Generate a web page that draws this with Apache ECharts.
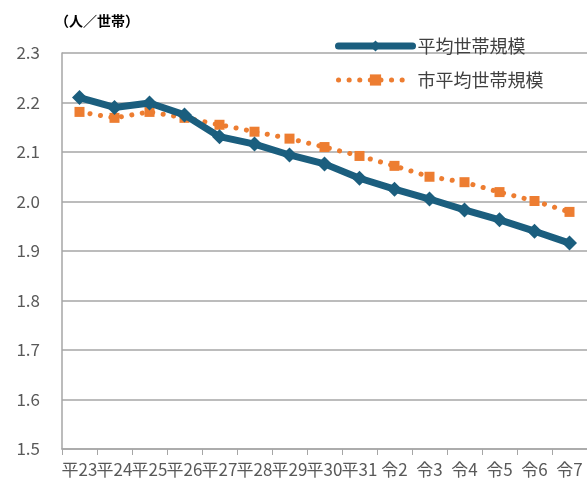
<!DOCTYPE html>
<html>
<head>
<meta charset="utf-8">
<script src="https://cdn.jsdelivr.net/npm/echarts@6/dist/echarts.min.js"></script>
<style>
  html, body { margin: 0; padding: 0; background: #fff; }
  #chart { width: 587px; height: 494px; }
</style>
</head>
<body>
<div id="chart"></div>
<script>
const years = ['平23', '平24', '平25', '平26', '平27', '平28', '平29', '平30', '平31', '令2', '令3', '令4', '令5', '令6', '令7']
const avgSize = [2.210, 2.190, 2.199, 2.175, 2.131, 2.116, 2.094, 2.076, 2.047, 2.025, 2.005, 1.983, 1.963, 1.940, 1.916]
const cityAvgSize = [2.181, 2.169, 2.181, 2.169, 2.155, 2.141, 2.127, 2.110, 2.092, 2.072, 2.050, 2.039, 2.019, 2.001, 1.979]
const yTicks = { min: 1.5, max: 2.3, step: 0.1 }

const font = 'Noto Sans CJK JP'
const blue = '#1B5E7E'
const orange = '#ED7D31'
const chart = echarts.init(document.getElementById('chart'))

const option = {
  animation: false,
  textStyle: { fontFamily: font },
  title: {
    text: '（人／世帯）',
    left: 50,
    top: 9,
    textStyle: { fontSize: 14, fontWeight: 'bold', color: '#000', fontFamily: font }
  },
  legend: {
    orient: 'vertical',
    left: 330,
    top: 32,
    itemGap: 16,
    itemWidth: 74,
    itemHeight: 14,
    textStyle: { fontSize: 18, color: '#404040', fontFamily: font },
    data: [
      { name: '平均世帯規模', lineStyle: { width: 7, color: blue, cap: 'round' } },
      { name: '市平均世帯規模', lineStyle: { width: 5, color: orange, type: [0.1, 10.5], cap: 'round' } }
    ]
  },
  grid: { left: 62, right: 0, top: 53, bottom: 45 },
  xAxis: {
    type: 'category',
    data: years,
    axisLine: { lineStyle: { color: '#a6a6a6', width: 1.5 } },
    axisTick: { show: true, length: 6, lineStyle: { color: '#a6a6a6' } },
    axisLabel: { interval: 0, fontSize: 17, color: '#595959', margin: 12, fontFamily: font }
  },
  yAxis: {
    type: 'value',
    min: yTicks.min,
    max: yTicks.max,
    interval: yTicks.step,
    axisLine: { show: true, lineStyle: { color: '#a6a6a6', width: 1.5 } },
    axisLabel: {
      fontSize: 17, color: '#595959', margin: 22, fontFamily: font,
      formatter: v => v.toFixed(1)
    },
    splitLine: { lineStyle: { color: '#a6a6a6', width: 1.5 } }
  },
  series: [
    {
      name: '市平均世帯規模',
      type: 'line',
      data: cityAvgSize,
      symbol: 'rect',
      symbolSize: 10,
      itemStyle: { color: orange },
      lineStyle: { color: orange, width: 5, type: [0.1, 10.5], cap: 'round' },
      z: 2
    },
    {
      name: '平均世帯規模',
      type: 'line',
      data: avgSize,
      symbol: 'diamond',
      symbolSize: 15,
      itemStyle: { color: blue },
      lineStyle: { color: blue, width: 7, cap: 'round' },
      z: 3
    }
  ]
}

chart.setOption(option)
window.addEventListener('resize', () => chart.resize())
</script>
</body>
</html>
